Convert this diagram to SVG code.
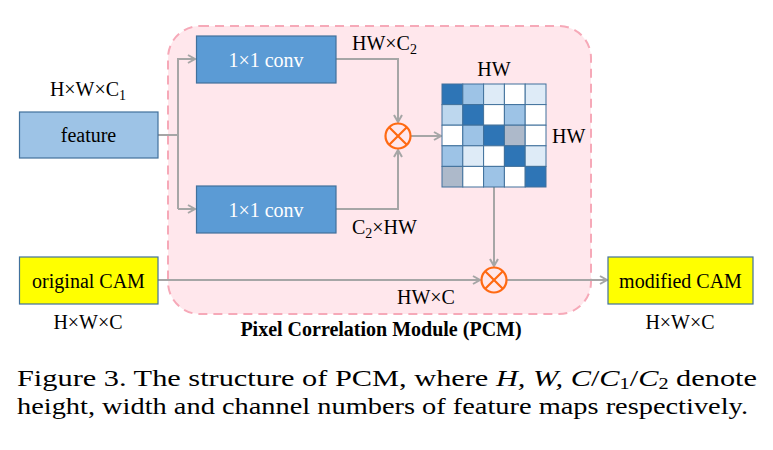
<svg xmlns="http://www.w3.org/2000/svg" width="773" height="450" viewBox="0 0 773 450" font-family="Liberation Serif">
<style>
.t{font-size:20px;fill:#000}
.w{fill:#fff}
.c{stroke:#A6A6A6;stroke-width:2;fill:none}
.box{stroke:#41719C;stroke-width:1.2}
.mul{fill:none;stroke:#FF6A13;stroke-width:2.2}
.cell{stroke:#41719C;stroke-width:1}
</style>
<defs>
<marker id="ar" markerWidth="10" markerHeight="10" refX="8" refY="5" orient="auto" markerUnits="userSpaceOnUse">
<path d="M1,1 L8,5 L1,9" fill="none" stroke="#A6A6A6" stroke-width="2"/>
</marker>
</defs>
<rect width="773" height="450" fill="#fff"/>
<g id="pcm">
<rect x="168" y="26" width="423" height="288" rx="32" fill="#FFE7EC" stroke="#F6A9B8" stroke-width="2" stroke-dasharray="9,6"/>
<text class="t" x="381" y="336" text-anchor="middle" font-weight="bold">Pixel Correlation Module (PCM)</text>
</g>
<g id="connectors">
<path class="c" d="M158,135 H178"/>
<path class="c" d="M178,209 V59 H195" marker-end="url(#ar)"/>
<path class="c" d="M178,209 H195" marker-end="url(#ar)"/>
<path class="c" d="M336,59 H398 V122" marker-end="url(#ar)"/>
<path class="c" d="M336,209 H398 V150" marker-end="url(#ar)"/>
<path class="c" d="M411,136 H441" marker-end="url(#ar)"/>
<path class="c" d="M494,187 V266" marker-end="url(#ar)"/>
<path class="c" d="M158,280 H480" marker-end="url(#ar)"/>
<path class="c" d="M507,280 H607" marker-end="url(#ar)"/>
</g>
<g id="feature">
<rect class="box" x="19.5" y="112" width="138.5" height="46" fill="#9DC3E6"/>
<text class="t" x="88.5" y="142" text-anchor="middle">feature</text>
<text class="t" x="88" y="96" text-anchor="middle">H×W×C<tspan font-size="14" dy="4">1</tspan></text>
</g>
<g id="conv1">
<rect class="box" x="196.5" y="36" width="139.5" height="47" fill="#5B9BD5"/>
<text class="t w" x="266" y="67" text-anchor="middle">1×1 conv</text>
<text class="t" x="352" y="50">HW×C<tspan font-size="14" dy="4">2</tspan></text>
</g>
<g id="conv2">
<rect class="box" x="196.5" y="186" width="139.5" height="47" fill="#5B9BD5"/>
<text class="t w" x="266" y="217" text-anchor="middle">1×1 conv</text>
<text class="t" x="352" y="234">C<tspan font-size="14" dy="4">2</tspan><tspan dy="-4">×HW</tspan></text>
</g>
<g id="mul1">
<circle class="mul" cx="398" cy="136" r="12.5"/>
<path class="mul" d="M389.2,127.2 L406.8,144.8 M406.8,127.2 L389.2,144.8"/>
</g>
<g id="matrix">
<rect x="442" y="84" width="104" height="103" fill="#fff"/>
<g class="cell">
<rect x="442" y="84" width="20.8" height="20.6" fill="#2E75B6"/>
<rect x="462.8" y="84" width="20.8" height="20.6" fill="#9DC3E6"/>
<rect x="483.6" y="84" width="20.8" height="20.6" fill="#DEEBF7"/>
<rect x="504.4" y="84" width="20.8" height="20.6" fill="#FFFFFF"/>
<rect x="525.2" y="84" width="20.8" height="20.6" fill="#DEEBF7"/>
<rect x="442" y="104.6" width="20.8" height="20.6" fill="#BDD7EE"/>
<rect x="462.8" y="104.6" width="20.8" height="20.6" fill="#2E75B6"/>
<rect x="483.6" y="104.6" width="20.8" height="20.6" fill="#FFFFFF"/>
<rect x="504.4" y="104.6" width="20.8" height="20.6" fill="#9DC3E6"/>
<rect x="525.2" y="104.6" width="20.8" height="20.6" fill="#FFFFFF"/>
<rect x="442" y="125.2" width="20.8" height="20.6" fill="#FFFFFF"/>
<rect x="462.8" y="125.2" width="20.8" height="20.6" fill="#9DC3E6"/>
<rect x="483.6" y="125.2" width="20.8" height="20.6" fill="#2E75B6"/>
<rect x="504.4" y="125.2" width="20.8" height="20.6" fill="#ADB9CA"/>
<rect x="525.2" y="125.2" width="20.8" height="20.6" fill="#FFFFFF"/>
<rect x="442" y="145.8" width="20.8" height="20.6" fill="#9DC3E6"/>
<rect x="462.8" y="145.8" width="20.8" height="20.6" fill="#DEEBF7"/>
<rect x="483.6" y="145.8" width="20.8" height="20.6" fill="#FFFFFF"/>
<rect x="504.4" y="145.8" width="20.8" height="20.6" fill="#2E75B6"/>
<rect x="525.2" y="145.8" width="20.8" height="20.6" fill="#DEEBF7"/>
<rect x="442" y="166.4" width="20.8" height="20.6" fill="#ADB9CA"/>
<rect x="462.8" y="166.4" width="20.8" height="20.6" fill="#FFFFFF"/>
<rect x="483.6" y="166.4" width="20.8" height="20.6" fill="#9DC3E6"/>
<rect x="504.4" y="166.4" width="20.8" height="20.6" fill="#FFFFFF"/>
<rect x="525.2" y="166.4" width="20.8" height="20.6" fill="#2E75B6"/>
</g>
<text class="t" x="494" y="76" text-anchor="middle">HW</text>
<text class="t" x="552" y="143">HW</text>
</g>
<g id="mul2">
<circle class="mul" cx="494" cy="280" r="12.5"/>
<path class="mul" d="M485.2,271.2 L502.8,288.8 M502.8,271.2 L485.2,288.8"/>
<text class="t" x="426" y="304" text-anchor="middle">HW×C</text>
</g>
<g id="original">
<rect class="box" x="19.5" y="257" width="138.5" height="47" fill="#FFFF00"/>
<text class="t" x="88.5" y="288" text-anchor="middle">original CAM</text>
<text class="t" x="88" y="329" text-anchor="middle">H×W×C</text>
</g>
<g id="modified">
<rect class="box" x="608" y="257" width="145" height="47" fill="#FFFF00"/>
<text class="t" x="680.5" y="288" text-anchor="middle">modified CAM</text>
<text class="t" x="680" y="329" text-anchor="middle">H×W×C</text>
</g>
<g id="caption" font-size="24">
<text x="17" y="386" textLength="740" lengthAdjust="spacingAndGlyphs">Figure 3. The structure of PCM, where <tspan font-style="italic">H, W, C</tspan>/<tspan font-style="italic">C</tspan><tspan font-size="16" dy="3">1</tspan><tspan dy="-3">/</tspan><tspan font-style="italic">C</tspan><tspan font-size="16" dy="3">2</tspan><tspan dy="-3"> denote</tspan></text>
<text x="17" y="414" textLength="731" lengthAdjust="spacingAndGlyphs">height, width and channel numbers of feature maps respectively.</text>
</g>
</svg>
